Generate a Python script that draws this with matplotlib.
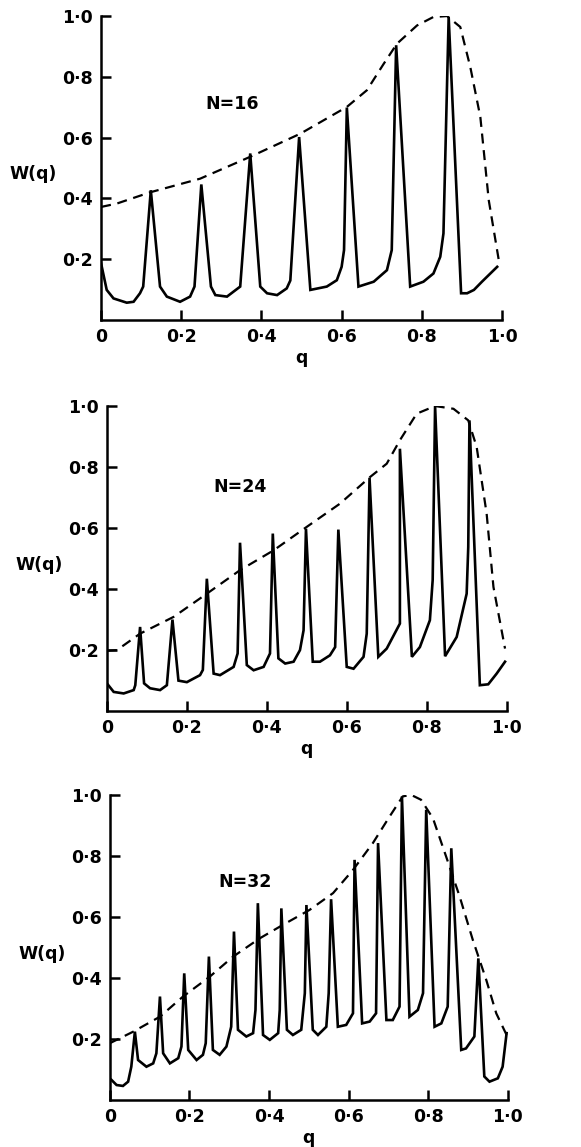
import matplotlib
matplotlib.use('Agg')
import matplotlib.pyplot as plt
from matplotlib.ticker import FixedLocator, FixedFormatter

# ---- data ----
# N=16
q16 = [0.0, 0.014, 0.031, 0.064, 0.081, 0.097, 0.105, 0.124, 0.147, 0.164, 0.197, 0.222, 0.233, 0.25,
       0.274, 0.285, 0.314, 0.347, 0.372, 0.397, 0.414, 0.439, 0.463, 0.472, 0.494,
       0.522, 0.563, 0.588, 0.6, 0.606, 0.613, 0.642, 0.68, 0.713, 0.725, 0.736,
       0.771, 0.804, 0.829, 0.846, 0.854, 0.867, 0.898, 0.913, 0.93, 0.95, 0.988]
w16 = [0.186, 0.099, 0.071, 0.057, 0.060, 0.088, 0.110, 0.427, 0.110, 0.077, 0.060, 0.077, 0.110, 0.446,
       0.110, 0.082, 0.077, 0.110, 0.548, 0.110, 0.088, 0.082, 0.104, 0.130, 0.602,
       0.099, 0.110, 0.131, 0.175, 0.230, 0.699, 0.110, 0.126, 0.164, 0.230, 0.904,
       0.110, 0.126, 0.153, 0.208, 0.285, 0.997, 0.088, 0.088, 0.099, 0.126, 0.175]
q16_env = [0.0, 0.039, 0.122, 0.247, 0.372, 0.497, 0.613, 0.663, 0.705, 0.738, 0.788, 0.829,
           0.863, 0.896, 0.921, 0.946, 0.967, 0.992]
w16_env = [0.372, 0.383, 0.420, 0.465, 0.537, 0.613, 0.701, 0.756, 0.843, 0.909, 0.969, 0.997,
           1.0, 0.964, 0.832, 0.668, 0.394, 0.197]

# N=24
q24 = [0.0, 0.017, 0.042, 0.067, 0.071, 0.083, 0.093, 0.108, 0.133, 0.15, 0.164,
       0.179, 0.2, 0.233, 0.24, 0.25, 0.267, 0.283, 0.317, 0.327, 0.333,
       0.35, 0.367, 0.392, 0.408, 0.415, 0.429, 0.446, 0.467, 0.483, 0.492, 0.498,
       0.515, 0.533, 0.558, 0.571, 0.579, 0.6, 0.617, 0.642, 0.65, 0.657,
       0.679, 0.7, 0.733, 0.733, 0.763, 0.783, 0.808, 0.815, 0.821,
       0.846, 0.875, 0.9, 0.904, 0.907, 0.933, 0.954, 0.975, 0.996]
w24 = [0.091, 0.063, 0.058, 0.069, 0.085, 0.276, 0.091, 0.075, 0.069, 0.085, 0.300,
       0.100, 0.095, 0.118, 0.135, 0.434, 0.123, 0.118, 0.145, 0.189, 0.552,
       0.151, 0.134, 0.145, 0.189, 0.582, 0.173, 0.156, 0.162, 0.200, 0.265, 0.598,
       0.162, 0.162, 0.183, 0.210, 0.595, 0.145, 0.139, 0.178, 0.254, 0.765,
       0.178, 0.205, 0.287, 0.860, 0.178, 0.210, 0.298, 0.430, 1.0,
       0.180, 0.243, 0.385, 0.538, 0.953, 0.085, 0.088, 0.123, 0.162]
q24_env = [0.0, 0.025, 0.083, 0.167, 0.25, 0.333, 0.417, 0.5, 0.583, 0.658, 0.7, 0.733,
           0.775, 0.821, 0.867, 0.904, 0.925, 0.95, 0.967, 0.996]
w24_env = [0.198, 0.200, 0.254, 0.309, 0.385, 0.462, 0.527, 0.604, 0.680, 0.767, 0.811, 0.888,
           0.975, 1.0, 0.991, 0.953, 0.866, 0.647, 0.407, 0.205]

# N=32
q32 = [0.004, 0.017, 0.033, 0.046, 0.054, 0.063,
       0.071, 0.092, 0.109, 0.117, 0.126,
       0.134, 0.151, 0.172, 0.18, 0.187,
       0.197, 0.218, 0.234, 0.241, 0.249,
       0.259, 0.276, 0.293, 0.305, 0.312,
       0.322, 0.343, 0.36, 0.366, 0.372,
       0.385, 0.402, 0.423, 0.427, 0.431,
       0.445, 0.46, 0.481, 0.49, 0.494,
       0.51, 0.523, 0.544, 0.55, 0.556,
       0.573, 0.594, 0.611, 0.615,
       0.634, 0.653, 0.669, 0.674,
       0.695, 0.711, 0.728, 0.734,
       0.753, 0.774, 0.787, 0.795,
       0.816, 0.833, 0.849, 0.858,
       0.883, 0.895, 0.916, 0.926,
       0.941, 0.954, 0.975, 0.987, 0.997]
w32 = [0.066, 0.049, 0.046, 0.060, 0.109, 0.224,
       0.131, 0.109, 0.120, 0.153, 0.339,
       0.153, 0.120, 0.137, 0.175, 0.415,
       0.164, 0.131, 0.148, 0.186, 0.470,
       0.164, 0.148, 0.175, 0.240, 0.552,
       0.230, 0.208, 0.219, 0.295, 0.645,
       0.213, 0.197, 0.219, 0.295, 0.628,
       0.230, 0.213, 0.230, 0.350, 0.639,
       0.230, 0.213, 0.240, 0.350, 0.658,
       0.240, 0.246, 0.284, 0.787,
       0.251, 0.257, 0.284, 0.842,
       0.262, 0.262, 0.306, 0.995,
       0.273, 0.295, 0.350, 0.951,
       0.240, 0.251, 0.306, 0.825,
       0.164, 0.169, 0.208, 0.464,
       0.077, 0.060, 0.071, 0.109, 0.219]
q32_env = [0.0, 0.059, 0.126, 0.184, 0.251, 0.31, 0.377, 0.435, 0.502, 0.561, 0.611, 0.661,
           0.703, 0.736, 0.757, 0.782, 0.812, 0.845, 0.879, 0.912, 0.946, 0.971, 0.997]
w32_env = [0.186, 0.224, 0.273, 0.339, 0.404, 0.470, 0.530, 0.574, 0.623, 0.678, 0.754, 0.842,
           0.929, 0.995, 1.0, 0.984, 0.923, 0.798, 0.667, 0.525, 0.393, 0.284, 0.213]

panels = [
    ("N=16", q16, w16, q16_env, w16_env, (0.326, 0.712)),
    ("N=24", q24, w24, q24_env, w24_env, (0.333, 0.735)),
    ("N=32", q32, w32, q32_env, w32_env, (0.339, 0.716)),
]

xticks = [0.0, 0.2, 0.4, 0.6, 0.8, 1.0]
xticklabels = ["0", "0·2", "0·4", "0·6", "0·8", "1·0"]
yticks = [0.2, 0.4, 0.6, 0.8, 1.0]
yticklabels = ["0·2", "0·4", "0·6", "0·8", "1·0"]

# axes rectangles (left, bottom, width, height) in figure fractions
rects = [
    (0.174, 0.721, 0.690, 0.265),
    (0.184, 0.380, 0.688, 0.266),
    (0.189, 0.041, 0.685, 0.266),
]

plt.rcParams['font.family'] = ['DejaVu Sans']
plt.rcParams['font.weight'] = 'bold'

fig = plt.figure(figsize=(5.81, 11.47), dpi=100)

for (label, q, w, qe, we, txt), rect in zip(panels, rects):
    ax = fig.add_axes(rect)
    ax.plot(q, w, color='black', lw=1.9, solid_joinstyle='miter')
    ax.plot(qe, we, color='black', lw=1.6, dashes=(4.5, 3))
    ax.set_xlim(0, 1.0)
    ax.set_ylim(0, 1.0)
    for s in ['top', 'right']:
        ax.spines[s].set_visible(False)
    for s in ['left', 'bottom']:
        ax.spines[s].set_linewidth(1.8)
    ax.xaxis.set_major_locator(FixedLocator(xticks))
    ax.xaxis.set_major_formatter(FixedFormatter(xticklabels))
    ax.yaxis.set_major_locator(FixedLocator(yticks))
    ax.yaxis.set_major_formatter(FixedFormatter(yticklabels))
    ax.tick_params(direction='in', length=7, width=1.8, labelsize=12.5, pad=6)
    for t in ax.get_xticklabels() + ax.get_yticklabels():
        t.set_fontweight('bold')
    ax.set_xlabel("q", fontsize=12.5, fontweight='bold', labelpad=2)
    ax.text(-0.17, 0.48, "W(q)", transform=ax.transAxes, fontsize=12.5,
            fontweight='bold', ha='center', va='center')
    ax.text(txt[0], txt[1], label, fontsize=12.5, fontweight='bold',
            ha='center', va='center')

fig.savefig("out.png", dpi=100)
